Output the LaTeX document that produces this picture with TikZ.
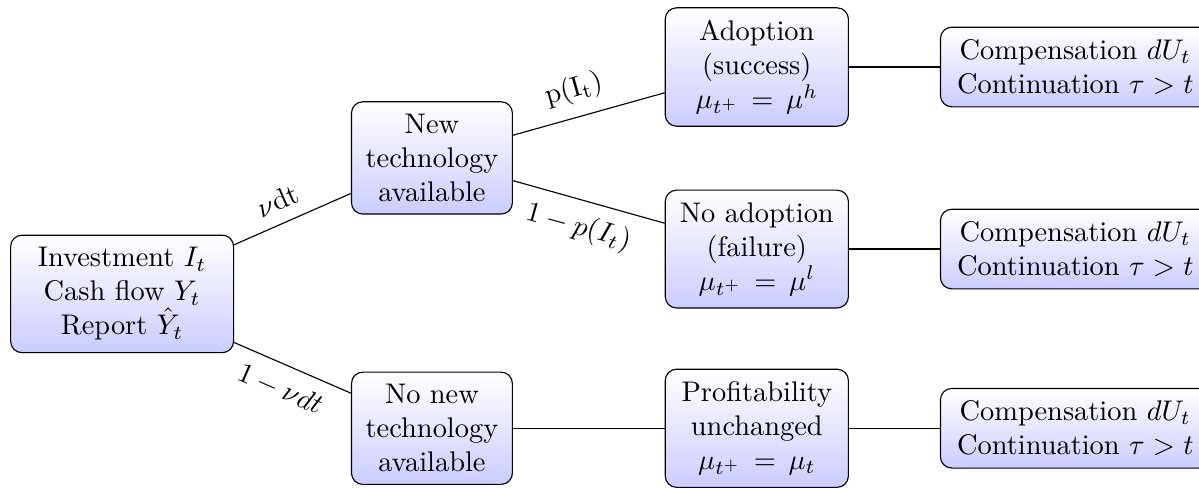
\documentclass[tikz,border=0pt]{standalone}
\usepackage{tikz}
\usetikzlibrary{positioning}

\begin{document}
\begin{tikzpicture}[
		state/.style={ % 圆角渐变框
			draw, rounded corners, align=center,
			top color=white, bottom color=blue!20,
			inner xsep=5pt, inner ysep=4.3pt
		},
		prob/.style={sloped, inner sep=4.5pt}
		]
		\useasboundingbox (-43pt,-68pt) rectangle (379.2pt,103.5pt);

		%% 根节点
		\node[state, minimum width=78.5pt] (inv) at (0,0) {Investment $I_t$\\ Cash flow $Y_t$\\ Report $\hat{Y}_t$};

		%% 第一层
		\node[state, on grid, above right=47.9pt and 109.1pt of inv] (newtech) {New\\ technology\\ available};
		\node[state, on grid, below right=47.3pt and 109.1pt of inv] (nonew) {No new\\ technology\\ available};

		%% 第二层
		\node[state, minimum width=64.5pt, on grid, above right=32pt and 114.4pt of newtech] (adopt) {Adoption\\ (success)\\ $\mu_{t^+}\,=\,\mu^h$};
		\node[state, minimum width=64.5pt, on grid, below right=32.1pt and 114.4pt of newtech] (noadopt) {No adoption\\ (failure)\\ $\mu_{t^+}\,=\,\mu^l$};
		\node[state, minimum width=64.5pt, on grid, right=114.4pt of nonew] (profit) {Profitability\\ unchanged\\ $\mu_{t^+}\,=\,\mu_t$};

		%% 合同
		\node[state, text width=85pt, right=32pt of adopt] (pay1) {Compensation $dU_t$\\ Continuation $\tau>t$};
		\node[state, text width=85pt, right=32pt of noadopt] (pay2) {Compensation $dU_t$\\ Continuation $\tau>t$};
		\node[state, text width=85pt, right=32pt of profit] (pay3) {Compensation $dU_t$\\ Continuation $\tau>t$};

		% 对各个节点连线
		\draw (inv) -- node[prob, pos=.45, above] {$\nu\mathrm{dt}$} (newtech);
		\draw (inv) -- node[prob, pos=.48, below] {$1-\nu dt$} (nonew);
		\draw (newtech) -- node[prob, pos=.45, above] {$\mathrm{p(I_t)}$} (adopt);
		\draw (newtech) -- node[prob, pos=.48, below] {$1-p(I_t)$} (noadopt);
		\draw (nonew) -- (profit);
		\draw (adopt) -- (pay1);
		\draw (noadopt) -- (pay2);
		\draw (profit) -- (pay3);
\end{tikzpicture}
\end{document}
